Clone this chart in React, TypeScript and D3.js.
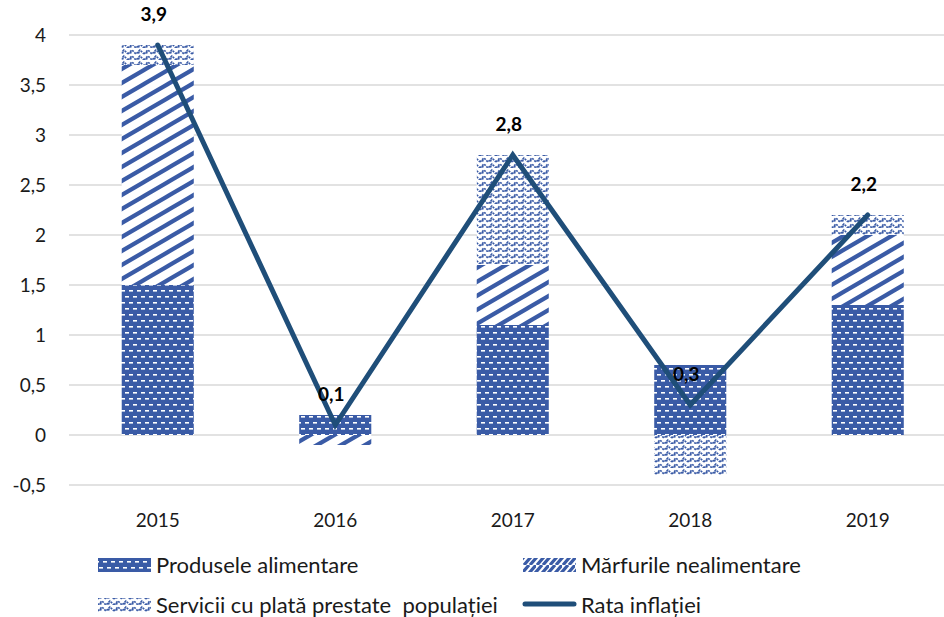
import React, { useEffect, useRef } from 'react';
import * as d3 from 'd3';

const years = ['2015', '2016', '2017', '2018', '2019'];
const foodValues = [1.5, 0.2, 1.1, 0.7, 1.3];
const nonFoodValues = [2.2, -0.1, 0.6, 0, 0.7];
const servicesValues = [0.2, 0, 1.1, -0.4, 0.2];
const inflationRate = [3.9, 0.1, 2.8, 0.3, 2.2];
const yTicks = [-0.5, 0, 0.5, 1, 1.5, 2, 2.5, 3, 3.5, 4];
const seriesKeys = ['food', 'nonfood', 'services'];
const seriesLabels = ['Produsele alimentare', 'Mărfurile nealimentare', 'Servicii cu plată prestate  populației', 'Rata inflației'];

const BLUE = '#3a5ba6';
const LINE = '#1f4e79';
const FONT = 'Lato, "Open Sans", sans-serif';

const comma = (v: number) => String(v).replace('.', ',');

const Chart = () => {
  const ref = useRef<SVGSVGElement>(null);

  useEffect(() => {
    const width = 944;
    const height = 617;
    const svg = d3.select(ref.current).attr('width', width).attr('height', height);
    svg.selectAll('*').remove();

    const defs = svg.append('defs');

    // dashed horizontal: blue with white dashes
    const pFood = defs.append('pattern').attr('id', 'p-food')
      .attr('patternUnits', 'userSpaceOnUse').attr('width', 8).attr('height', 12);
    pFood.append('rect').attr('width', 8).attr('height', 12).attr('fill', BLUE);
    pFood.append('rect').attr('x', 1).attr('y', 2).attr('width', 4).attr('height', 1.6).attr('fill', '#fff');
    pFood.append('rect').attr('x', 5).attr('y', 8).attr('width', 4).attr('height', 1.6).attr('fill', '#fff');
    pFood.append('rect').attr('x', -3).attr('y', 8).attr('width', 4).attr('height', 1.6).attr('fill', '#fff');

    // wide upward diagonal
    const pNon = defs.append('pattern').attr('id', 'p-non')
      .attr('patternUnits', 'userSpaceOnUse').attr('width', 24).attr('height', 14);
    pNon.append('rect').attr('width', 24).attr('height', 14).attr('fill', '#fff');
    pNon.append('path')
      .attr('d', 'M-24,14 L24,-14 M0,14 L24,0 M0,28 L48,0 M-24,28 L24,0')
      .attr('stroke', BLUE).attr('stroke-width', 4.2);

    const pNonLegend = defs.append('pattern').attr('id', 'p-non-leg')
      .attr('patternUnits', 'userSpaceOnUse').attr('width', 13).attr('height', 14);
    pNonLegend.append('rect').attr('width', 13).attr('height', 14).attr('fill', '#fff');
    pNonLegend.append('path')
      .attr('d', 'M-6,14 L6,0 M1,14 L13,0 M7,14 L19,0')
      .attr('stroke', BLUE).attr('stroke-width', 3.2);

    // zig zag / weave of small dots
    const pServ = defs.append('pattern').attr('id', 'p-serv')
      .attr('patternUnits', 'userSpaceOnUse').attr('width', 16).attr('height', 12);
    pServ.append('rect').attr('width', 16).attr('height', 12).attr('fill', '#fff');
    pServ.append('path')
      .attr('d', 'M0,6 L4,2 L8,6 L12,2 L16,6 M0,12 L4,8 L8,12 L12,8 L16,12 M2,4 L4,6 M10,4 L12,6 M2,10 L4,12 M10,10 L12,12')
      .attr('fill', 'none').attr('stroke', BLUE).attr('stroke-width', 1.7)
      .attr('stroke-dasharray', '2,1');

    const fills = ['url(#p-food)', 'url(#p-non)', 'url(#p-serv)'];
    const legendFills = ['url(#p-food)', 'url(#p-non-leg)', 'url(#p-serv)'];

    const x = d3.scaleBand<string>().domain(years).range([69, 956.5])
      .paddingInner(0.594).paddingOuter(0.297);
    const y = d3.scaleLinear().domain([-0.5, 4]).range([485, 35]);

    // gridlines
    svg.append('g').selectAll('line').data(yTicks).join('line')
      .attr('x1', 69).attr('x2', width)
      .attr('y1', d => y(d)).attr('y2', d => y(d))
      .attr('stroke', '#d9d9d9').attr('stroke-width', 1.3);

    svg.append('g').selectAll('text').data(yTicks).join('text')
      .attr('x', 46).attr('y', d => y(d)).attr('dy', '0.35em')
      .attr('text-anchor', 'end').attr('font-family', FONT).attr('font-size', 19)
      .attr('fill', '#1a1a1a').text(d => comma(d));

    const rows = years.map((yr, i) => ({
      year: yr, food: foodValues[i], nonfood: nonFoodValues[i], services: servicesValues[i],
    }));
    const stacked = d3.stack<any>().keys(seriesKeys).offset(d3.stackOffsetDiverging)(rows);

    stacked.forEach((s, si) => {
      svg.append('g').selectAll('rect').data(s).join('rect')
        .attr('x', d => x(d.data.year)!)
        .attr('width', x.bandwidth())
        .attr('y', d => y(Math.max(d[0], d[1])))
        .attr('height', d => Math.abs(y(d[0]) - y(d[1])))
        .attr('fill', fills[si]);
    });

    // x labels
    svg.append('g').selectAll('text').data(years).join('text')
      .attr('x', d => x(d)! + x.bandwidth() / 2).attr('y', 527)
      .attr('text-anchor', 'middle').attr('font-family', FONT).attr('font-size', 19)
      .attr('fill', '#1a1a1a').text(d => d);

    const cx = (i: number) => x(years[i])! + x.bandwidth() / 2;
    const line = d3.line<number>().x((_, i) => cx(i)).y(d => y(d));
    svg.append('path').datum(inflationRate).attr('d', line)
      .attr('fill', 'none').attr('stroke', LINE).attr('stroke-width', 5)
      .attr('stroke-linejoin', 'miter').attr('stroke-linecap', 'round');

    svg.append('g').selectAll('text').data(inflationRate).join('text')
      .attr('x', (_, i) => cx(i) - 4).attr('y', d => y(d) - 24)
      .attr('text-anchor', 'middle').attr('font-family', FONT).attr('font-size', 19)
      .attr('font-weight', 'bold').attr('fill', '#000').text(d => comma(d));

    // legend
    const legendPos = [[98, 565], [523, 565], [98, 605], [523, 605]];
    const lg = svg.append('g').selectAll('g').data(seriesLabels).join('g')
      .attr('transform', (_, i) => `translate(${legendPos[i][0]},${legendPos[i][1]})`);
    lg.filter((_, i) => i < 3).append('rect')
      .attr('x', 0).attr('y', -7).attr('width', 53).attr('height', 14)
      .attr('fill', (_, i) => legendFills[i]);
    lg.filter((_, i) => i === 3).append('line')
      .attr('x1', 2).attr('x2', 51).attr('y1', -1).attr('y2', -1)
      .attr('stroke', LINE).attr('stroke-width', 5).attr('stroke-linecap', 'round');
    lg.append('text').attr('x', 58).attr('dy', '0.35em')
      .attr('font-family', FONT).attr('font-size', 22).attr('fill', '#1a1a1a')
      .style('white-space', 'pre')
      .text(d => d);
  }, []);

  return <svg ref={ref} style={{ position: 'absolute', left: 0, top: 0, display: 'block' }}></svg>;
};

export default function App() {
  return <Chart />;
}
